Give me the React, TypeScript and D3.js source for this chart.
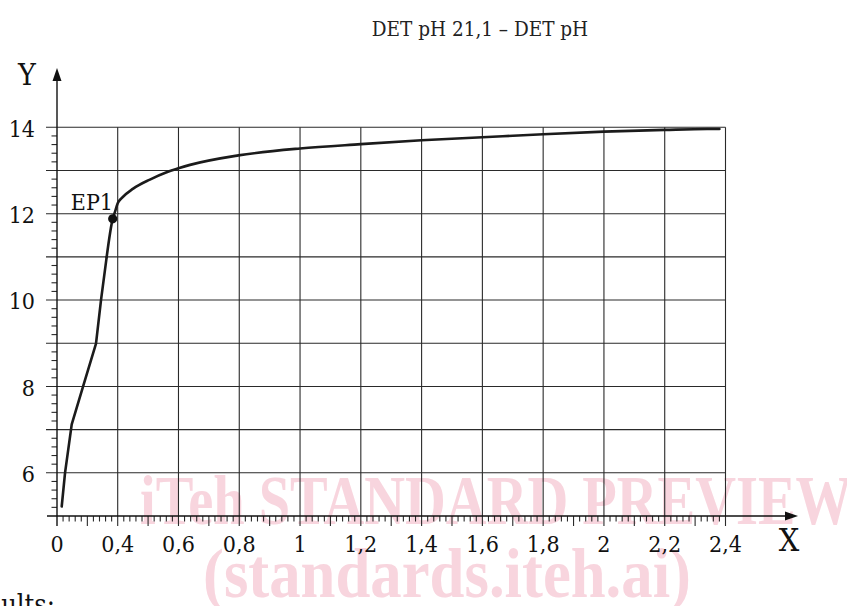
import React from "react";
import * as d3 from "d3";

const W = 847;
const H = 606;

const titleText = "DET pH 21,1 – DET pH";
const xTickValues = [0, 0.4, 0.6, 0.8, 1, 1.2, 1.4, 1.6, 1.8, 2, 2.2, 2.4];
const xTickLabels = ["0", "0,4", "0,6", "0,8", "1", "1,2", "1,4", "1,6", "1,8", "2", "2,2", "2,4"];
const yTickValues = [6, 8, 10, 12, 14];
const yTickLabels = ["6", "8", "10", "12", "14"];
const yGridValues = [6, 7, 8, 9, 10, 11, 12, 13, 14];

// steep lower part (nearly straight segments)
const lowX = [0.031, 0.053, 0.097, 0.171, 0.257, 0.29, 0.327];
const lowY = [5.22, 6.0, 7.12, 7.99, 8.99, 10.0, 10.99];
// upper smooth part
const upX = [0.327, 0.367, 0.382, 0.4, 0.413, 0.451, 0.506, 0.561, 0.6, 0.638, 0.797, 1.0, 1.2, 1.4, 1.6, 1.8, 2.0, 2.2, 2.34, 2.38];
const upY = [10.99, 11.88, 12.04, 12.24, 12.36, 12.58, 12.79, 12.96, 13.05, 13.13, 13.35, 13.51, 13.61, 13.7, 13.77, 13.84, 13.9, 13.94, 13.96, 13.96];

const ep1 = { label: "EP1", x: 0.367, y: 11.88 };

const watermark1 = "iTeh STANDARD PREVIEW";
const watermark2 = "(standards.iteh.ai)";
const footerText = "Results:";

const serif = "'DejaVu Serif', 'Liberation Serif', serif";

export default function App() {
  const x = d3.scaleLinear().domain([0, 0.4, 2.4]).range([57, 117.7, 725.5]);
  const y = d3.scaleLinear().domain([5, 14]).range([516, 127.3]);

  const lowLine = d3
    .line<number>()
    .x((_, i) => x(lowX[i]))
    .y((d) => y(d))
    .curve(d3.curveLinear);
  const upLine = d3
    .line<number>()
    .x((_, i) => x(upX[i]))
    .y((d) => y(d))
    .curve(d3.curveMonotoneX);

  const x0 = x(0);
  const xMax = x(2.4);
  const yAxis = y(5);
  const yTop = y(14);

  const xMinor: { v: number; long: boolean }[] = [];
  for (let i = 0; i < xTickValues.length - 1; i++) {
    const a = xTickValues[i];
    const b = xTickValues[i + 1];
    for (let k = 1; k < 10; k++) {
      xMinor.push({ v: a + ((b - a) * k) / 10, long: k === 5 });
    }
  }
  const yMinor: number[] = [];
  for (let i = 0; i <= 45; i++) {
    const v = 5 + i * 0.2;
    if (Math.abs(v - Math.round(v)) > 0.01) yMinor.push(v);
  }

  const gridColor = "#2a2a2a";
  const txt = { fontFamily: serif, fontStretch: "condensed" as const };

  return (
    <svg
      width={W}
      height={H}
      viewBox={`0 0 ${W} ${H}`}
      style={{ position: "absolute", left: 0, top: 0, background: "#fff" }}
    >
      <rect x={0} y={0} width={W} height={H} fill="#fff" />
      {/* watermark */}
      <g fill="#f8d5de" fontFamily="'Liberation Serif', serif" fontWeight="bold">
        <text x={140} y={524} fontSize={70} textLength={712} lengthAdjust="spacingAndGlyphs">
          {watermark1}
        </text>
        <text x={203} y={597} fontSize={70} textLength={488} lengthAdjust="spacingAndGlyphs">
          {watermark2}
        </text>
      </g>

      {/* title */}
      <text x={480} y={36} textAnchor="middle" fontSize={20.5} fill="#222" style={txt}>
        {titleText}
      </text>

      {/* horizontal grid */}
      {yGridValues.map((v) => (
        <line key={"hg" + v} x1={46} x2={xMax} y1={y(v)} y2={y(v)} stroke={gridColor} strokeWidth={1.1} />
      ))}
      {/* vertical grid */}
      {xTickValues.slice(1).map((v) => (
        <line key={"vg" + v} x1={x(v)} x2={x(v)} y1={yTop} y2={yAxis + 10} stroke={gridColor} strokeWidth={1.1} />
      ))}

      {/* x minor ticks */}
      {xMinor.map((t, i) => (
        <line
          key={"xm" + i}
          x1={x(t.v)}
          x2={x(t.v)}
          y1={yAxis}
          y2={yAxis + (t.long ? 10 : 5.5)}
          stroke={gridColor}
          strokeWidth={1.1}
        />
      ))}
      {/* y minor ticks */}
      {yMinor.map((v, i) => (
        <line key={"ym" + i} x1={x0 - 5.5} x2={x0} y1={y(v)} y2={y(v)} stroke={gridColor} strokeWidth={1.1} />
      ))}

      {/* axes */}
      <line x1={47} x2={790} y1={yAxis} y2={yAxis} stroke="#111" strokeWidth={1.4} />
      <path d={`M${798},${yAxis} L${785},${yAxis - 4.5} L${785},${yAxis + 4.5} Z`} fill="#111" />
      <line x1={x0} x2={x0} y1={yAxis + 10} y2={76} stroke="#111" strokeWidth={1.4} />
      <path d={`M${x0},${68} L${x0 - 4.5},${81} L${x0 + 4.5},${81} Z`} fill="#111" />

      {/* axis labels */}
      <text x={27} y={85} textAnchor="middle" fontSize={30} fill="#111" style={txt}>
        Y
      </text>
      <text x={789} y={551} textAnchor="middle" fontSize={32} fill="#111" style={txt}>
        X
      </text>

      {/* tick labels */}
      {yTickValues.map((v, i) => (
        <text
          key={"yl" + v}
          x={35}
          y={y(v)}
          dy="0.4em"
          textAnchor="end"
          fontSize={23}
          fill="#111"
          style={txt}
        >
          {yTickLabels[i]}
        </text>
      ))}
      {xTickValues.map((v, i) => (
        <text key={"xl" + v} x={x(v)} y={552} textAnchor="middle" fontSize={23} fill="#111" style={txt}>
          {xTickLabels[i]}
        </text>
      ))}

      {/* curve */}
      <path d={lowLine(lowY) || ""} fill="none" stroke="#1b1b1b" strokeWidth={2.6} strokeLinejoin="round" strokeLinecap="round" />
      <path d={upLine(upY) || ""} fill="none" stroke="#1b1b1b" strokeWidth={2.6} strokeLinejoin="round" strokeLinecap="round" />

      {/* EP1 */}
      <circle cx={x(ep1.x)} cy={y(ep1.y)} r={4.6} fill="#111" />
      <text x={113} y={210} textAnchor="end" fontSize={23} fill="#111" style={txt}>
        {ep1.label}
      </text>

      {/* footer fragment */}
      <text x={55} y={614} textAnchor="end" fontSize={27} fill="#111" style={txt}>
        {footerText}
      </text>
    </svg>
  );
}
